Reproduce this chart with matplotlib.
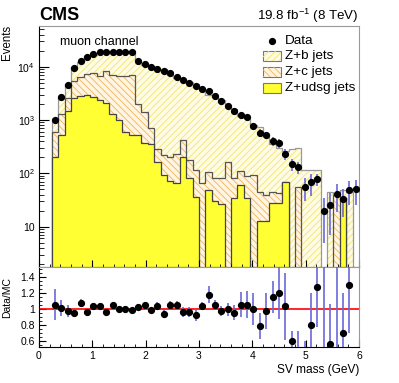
import numpy as np
import matplotlib.pyplot as plt
from matplotlib.patches import Rectangle
from matplotlib.lines import Line2D
from matplotlib.ticker import FixedLocator, NullFormatter, MultipleLocator, LogLocator

plt.rcParams['font.family'] = ['Liberation Sans', 'DejaVu Sans']
plt.rcParams['mathtext.default'] = 'regular'
plt.rcParams['hatch.linewidth'] = 0.6

# 50 bins of 0.12 GeV in SV mass
edges = np.linspace(0, 6, 51)
centers = 0.5 * (edges[:-1] + edges[1:])

# MC components (events per bin)
zl = [0, 0, 200, 520, 1500, 2600, 2800, 3000, 2750, 2400,
      2100, 1300, 1000, 600, 530, 520, 370, 360, 165, 95,
      72, 66, 200, 80, 36, 0, 48, 30, 27, 0,
      34, 60, 34, 0, 13, 13, 28, 28, 68, 0,
      0, 0, 0, 0, 0, 0, 0, 34, 0, 0]
zc = [0, 0, 400, 780, 1100, 2800, 3600, 4200, 4850, 4400,
      6100, 5700, 5800, 6200, 6370, 1480, 1030, 340, 115, 125,
      128, 164, 220, 97, 80, 65, 59, 50, 53, 160,
      46, 50, 56, 93, 32, 27, 17, 14, 0, 0,
      55, 0, 0, 0, 0, 0, 40, 0, 0, 0]
zb = [0, 0, 350, 1420, 2100, 4600, 5600, 8400, 9000, 11200,
      11700, 11200, 12300, 12500, 12600, 10550, 9270, 9500, 8550, 8700,
      6940, 5960, 5570, 5033, 4664, 3725, 2873, 2590, 2290, 1660,
      1500, 1060, 980, 697, 695, 500, 305, 263, 192, 290,
      245, 115, 115, 115, 0, 45, 0, 15, 45, 0]

# data
data = [np.nan, np.nan, 1000, 2750, 4570, 9550, 12800, 15000, 17000, 18600,
        19000, 19100, 19000, 19200, 19100, 12800, 11100, 10000, 9100, 8300,
        7500, 6500, 5750, 5000, 4400, 3900, 3500, 2800, 2300, 1800,
        1500, 1230, 1120, 780, 580, 520, 400, 365, 230, 148,
        130, 55, 68, 78, 20, 25, 41, 33, 49, 50]
data_err = [0, 0, 30, 50, 70, 100, 110, 120, 130, 140,
            140, 140, 140, 140, 140, 115, 105, 100, 95, 90,
            85, 80, 75, 70, 65, 60, 55, 50, 45, 40,
            35, 35, 33, 110, 90, 85, 75, 70, 50, 37,
            33, 25, 30, 20, 15, 18, 22, 18, 24, 24]

# ratio panel
ratio = [np.nan, np.nan, 1.05, 1.01, 0.97, 0.95, 1.07, 0.96, 1.03, 1.03,
         0.96, 1.05, 1.00, 0.99, 0.98, 1.02, 1.04, 0.98, 1.03, 0.93,
         1.05, 1.05, 0.96, 0.96, 0.92, 1.03, 1.175, 1.05, 0.97, 0.99,
         0.95, 1.05, 1.05, 0.99, 0.78, 0.97, 1.14, 1.20, 1.03, 0.60,
         0.30, 0.35, 0.80, 1.27, 2.5, 0.56, 2.0, 0.70, 1.30, np.nan]
ratio_err = [0, 0, 0.19, 0.10, 0.07, 0.04, 0.05, 0.03, 0.03, 0.03,
             0.03, 0.03, 0.03, 0.03, 0.03, 0.04, 0.04, 0.04, 0.05, 0.05,
             0.05, 0.05, 0.06, 0.06, 0.07, 0.05, 0.11, 0.06, 0.06, 0.08,
             0.09, 0.16, 0.17, 0.20, 0.16, 0.22, 0.20, 0.33, 0.42, 0.12,
             0.42, 0.24, 0.40, 0.50, 2.2, 0.50, 1.7, 0.50, 0.60, 0]

zl = np.array(zl, float)
mid = zl + np.array(zc, float)
tot = mid + np.array(zb, float)
floor = 0.1

fig = plt.figure(figsize=(3.99, 3.83), dpi=100)
ax = fig.add_axes([39/399, 1-267/383, 320/399, 241/383])
ax2 = fig.add_axes([39/399, 1-347/383, 320/399, 80/383])
ax.set_yscale('log')

# stacked histograms, drawn from the total down
ax.stairs(np.maximum(tot, floor), edges, baseline=floor, fill=True,
          facecolor='#fffce6', edgecolor='none')
ax.stairs(np.maximum(tot, floor), edges, baseline=floor, fill=True,
          facecolor='none', edgecolor='#f3e46a', hatch='/////', linewidth=0)
ax.stairs(np.maximum(tot, floor), edges, baseline=floor, color='#999999', lw=0.9)
ax.stairs(np.maximum(mid, floor), edges, baseline=floor, fill=True,
          facecolor='#fff5e2', edgecolor='none')
ax.stairs(np.maximum(mid, floor), edges, baseline=floor, fill=True,
          facecolor='none', edgecolor='#f2b458', hatch='\\\\\\\\\\', linewidth=0)
ax.stairs(np.maximum(mid, floor), edges, baseline=floor, color='#555555', lw=0.9)
ax.stairs(np.maximum(zl, floor), edges, baseline=floor, fill=True,
          facecolor='#ffff33', edgecolor='none')
ax.stairs(np.maximum(zl, floor), edges, baseline=floor, color='#444444', lw=0.9)

ax.errorbar(centers, data, yerr=data_err, fmt='o', color='k', ms=4.2,
            ecolor='#6a6ad8', elinewidth=1.2, zorder=5)

ax.set_xlim(0, 6)
ax.set_ylim(1.75, 58000)
ax.yaxis.set_major_locator(FixedLocator([10, 100, 1000, 10000]))
ax.set_yticklabels(['10', '$10^{2}$', '$10^{3}$', '$10^{4}$'])
ax.yaxis.set_minor_locator(LogLocator(base=10, subs=np.arange(2, 10)))
ax.yaxis.set_minor_formatter(NullFormatter())
ax.xaxis.set_major_locator(MultipleLocator(1))
ax.xaxis.set_minor_locator(MultipleLocator(0.2))
ax.set_xticklabels([])
ax.tick_params(axis='y', which='major', direction='in', length=7, labelsize=7.5, pad=3)
ax.tick_params(axis='y', which='minor', direction='in', length=3.5)
ax.tick_params(axis='x', which='major', direction='in', length=5)
ax.tick_params(axis='x', which='minor', direction='in', length=2.5)
for s in ['top', 'right']:
    ax.spines[s].set_color('#999999')

ax.text(0.065, 0.935, 'muon channel', transform=ax.transAxes, fontsize=9,
        ha='left', va='center')

# legend
ax.add_line(Line2D([0.728], [0.938], marker='o', color='k', ms=4.2,
                   transform=ax.transAxes))
ax.text(0.769, 0.938, 'Data', transform=ax.transAxes, fontsize=9.7, va='center')
leg = [('Z+b jets', '#fffce6', '#f3e46a', '/////', 0.8755),
       ('Z+c jets', '#fff5e2', '#f2b458', '\\\\\\\\\\', 0.809),
       ('Z+udsg jets', '#ffff33', None, None, 0.743)]
for lab, fc, hc, hat, yc in leg:
    ax.add_patch(Rectangle((0.70, yc - 0.021), 0.056, 0.042, transform=ax.transAxes,
                           facecolor=fc, edgecolor='#777777', lw=0.8))
    if hat:
        ax.add_patch(Rectangle((0.70, yc - 0.021), 0.056, 0.042, transform=ax.transAxes,
                               facecolor='none', edgecolor=hc, hatch=hat, lw=0))
    ax.text(0.769, yc, lab, transform=ax.transAxes, fontsize=9.7, va='center')

# ratio
ax2.axhline(1, color='red', lw=1.2)
ax2.errorbar(centers, ratio, yerr=ratio_err, fmt='o', color='k', ms=4.2,
             ecolor='#6a6ad8', elinewidth=1.2, zorder=5)
ax2.set_xlim(0, 6)
ax2.set_ylim(0.52, 1.52)
ax2.yaxis.set_major_locator(FixedLocator([0.6, 0.8, 1.0, 1.2, 1.4]))
ax2.set_yticklabels(['0.6', '0.8', '1', '1.2', '1.4'])
ax2.yaxis.set_minor_locator(MultipleLocator(0.05))
ax2.xaxis.set_major_locator(MultipleLocator(1))
ax2.xaxis.set_minor_locator(MultipleLocator(0.2))
ax2.tick_params(axis='both', which='major', direction='in', length=5, labelsize=7.5, pad=3)
ax2.tick_params(axis='both', which='minor', direction='in', length=2.5)
for s in ['top', 'right']:
    ax2.spines[s].set_color('#999999')

fig.text(39/399, 1-20/383, 'CMS', fontsize=13, fontweight='bold', ha='left', va='baseline')
fig.text(359/399, 1-20/383, '19.8 fb$^{-1}$ (8 TeV)', fontsize=9.6, ha='right', va='baseline')
fig.text(7/399, 1-25/383, 'Events', fontsize=8.3, rotation=90, ha='center', va='top')
fig.text(7/399, 1-297/383, 'Data/MC', fontsize=7.5, rotation=90, ha='center', va='center')
fig.text(359/399, 1-370/383, 'SV mass (GeV)', fontsize=8.6, ha='right', va='center')

fig.savefig('out.png', dpi=100)
